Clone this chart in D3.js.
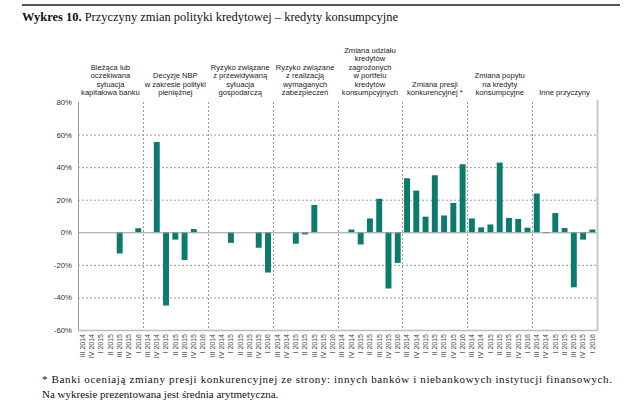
<!DOCTYPE html>
<html><head><meta charset="utf-8">
<script src="https://cdn.jsdelivr.net/npm/d3@7"></script>
<style>body{margin:0;background:#fff;}svg{display:block;}</style>
</head><body>
<svg id="c" width="640" height="401"></svg>
<script>
const quarters = ["III 2014","IV 2014","I 2015","II 2015","III 2015","IV 2015","I 2016"];
const groups = [
  ["Bieżąca lub","oczekiwana","sytuacja","kapitałowa banku"],
  ["Decyzje NBP","w zakresie polityki","pieniężnej"],
  ["Ryzyko związane","z przewidywaną","sytuacja","gospodarczą"],
  ["Ryzyko związane","z realizacją","wymaganych","zabezpieczeń"],
  ["Zmiana udziału","kredytów","zagrożonych","w portfelu","kredytów","konsumpcyjnych"],
  ["Zmiana presji","konkurencyjnej *"],
  ["Zmiana popytu","na kredyty","konsumpcyjne"],
  ["Inne przyczyny"]
];
const g1 = [0, 0, 0, 0, -13, 0, 2.5];
const g2 = [0, 55.5, -45, -4.5, -17, 2, 0];
const g3 = [0, 0, -6.5, 0, 0, -9.5, -24.7];
const g4 = [0, 0, -7, -1.3, 16.8, 0, 0];
const g5 = [0, 1.7, -7.5, 8.5, 20.6, -34.5, -18.8];
const g6 = [33.2, 25.6, 9.6, 35, 10.3, 18, 41.8];
const g7 = [8.5, 3, 4.8, 42.8, 8.8, 8.2, 2.8];
const g8 = [23.8, -0.5, 11.8, 2.6, -33.8, -4.5, 1.7];
const seriesValues = [g1,g2,g3,g4,g5,g6,g7,g8];
const yTicks = [80,60,40,20,0,-20,-40,-60];
const title = "Wykres 10.";
const titleRest = " Przyczyny zmian polityki kredytowej – kredyty konsumpcyjne";
const footnote1 = "* Banki oceniają zmiany presji konkurencyjnej ze strony: innych banków i niebankowych instytucji finansowych.";
const footnote2 = "Na wykresie prezentowana jest średnia arytmetyczna.";

const data = [];
seriesValues.forEach((arr,gi)=>arr.forEach((v,qi)=>data.push({key:gi+"-"+qi,g:gi,q:qi,v:v})));

const svg = d3.select("#c");
const L=78, R=597, T=102, B=330;
const x = d3.scaleBand().domain(data.map(d=>d.key)).range([L,R]).paddingInner(0.36).paddingOuter(0.18);
const xg = d3.scaleBand().domain(d3.range(groups.length)).range([L,R]);
const y = d3.scaleLinear().domain([-60,80]).range([B,T]);
const col = "#0a7b6c";

// top rule
svg.append("rect").attr("x",22).attr("y",4).attr("width",598).attr("height",2).attr("fill","#555");
// title
const tt = svg.append("text").attr("x",22).attr("y",21).attr("font-family","Liberation Serif, serif").attr("font-size",13.5).attr("fill","#111")
  .attr("textLength",376).attr("lengthAdjust","spacingAndGlyphs");
tt.append("tspan").attr("font-weight","bold").text(title);
tt.append("tspan").text(titleRest);

// grid horizontal
svg.append("g").selectAll("line").data(yTicks.filter(t=>t!==0 && t!==-60 && t!==80)).join("line")
  .attr("x1",L).attr("x2",R).attr("y1",d=>y(d)+0.5).attr("y2",d=>y(d)+0.5)
  .attr("stroke","#9a9a9a").attr("stroke-width",1).attr("stroke-dasharray","2,2");
// vertical group separators
svg.append("g").selectAll("line").data(d3.range(1,groups.length)).join("line")
  .attr("x1",d=>Math.round(xg(d))+0.5).attr("x2",d=>Math.round(xg(d))+0.5).attr("y1",T).attr("y2",B)
  .attr("stroke","#9a9a9a").attr("stroke-width",1).attr("stroke-dasharray","2,2");

// bars
svg.append("g").selectAll("rect").data(data.filter(d=>d.v!==0)).join("rect")
  .attr("x",d=>x(d.key)).attr("width",x.bandwidth())
  .attr("y",d=>y(Math.max(0,d.v))).attr("height",d=>Math.abs(y(d.v)-y(0)))
  .attr("fill",col);

// axes lines
svg.append("line").attr("x1",L+0.5).attr("x2",L+0.5).attr("y1",T).attr("y2",B).attr("stroke","#999");
svg.append("line").attr("x1",L).attr("x2",R).attr("y1",y(0)+0.5).attr("y2",y(0)+0.5).attr("stroke","#999");
svg.append("line").attr("x1",L).attr("x2",R+1).attr("y1",B+0.5).attr("y2",B+0.5).attr("stroke","#bbb").attr("stroke-width",1.5);
svg.append("line").attr("x1",R+0.5).attr("x2",R+0.5).attr("y1",T-2).attr("y2",B+1).attr("stroke","#c8c8c8").attr("stroke-width",2);

// y axis labels
const yAxis = d3.axisLeft(y).tickValues(yTicks).tickFormat(d=>d+"%").tickSize(0).tickPadding(6);
const ya = svg.append("g").attr("transform",`translate(${L},0)`).call(yAxis);
ya.select(".domain").remove();
ya.selectAll("text").attr("font-family","Liberation Sans, Arial, sans-serif").attr("font-size",7.8).attr("fill","#333");

// x labels rotated
const xAxis = d3.axisBottom(x).tickFormat(k=>quarters[+k.split("-")[1]]).tickSize(0).tickPadding(0);
const xa = svg.append("g").attr("transform",`translate(0,${B})`).call(xAxis);
xa.select(".domain").remove();
xa.selectAll("text").attr("font-family","Liberation Sans, Arial, sans-serif").attr("font-size",7).attr("fill","#444")
  .attr("transform","rotate(-90)").attr("text-anchor","end").attr("x",-4).attr("y",0).attr("dy","0.33em");

// group labels
const gl = svg.append("g");
groups.forEach((lines,gi)=>{
  const cx = xg(gi)+xg.bandwidth()/2;
  const n = lines.length;
  const t = gl.append("text").attr("text-anchor","middle").attr("font-family","Liberation Sans, Arial, sans-serif")
    .attr("font-size",7.6).attr("fill","#222");
  lines.forEach((s,i)=>{
    t.append("tspan").attr("x",cx).attr("y",95-(n-1-i)*8.4).text(s);
  });
});

// footnote
svg.append("text").attr("x",42).attr("y",383).attr("font-family","Liberation Serif, serif").attr("font-size",11).attr("fill","#111")
  .attr("textLength",570).attr("lengthAdjust","spacing").text(footnote1);
svg.append("text").attr("x",42).attr("y",398).attr("font-family","Liberation Serif, serif").attr("font-size",11).attr("fill","#111")
  .text(footnote2);
</script>
</body></html>
